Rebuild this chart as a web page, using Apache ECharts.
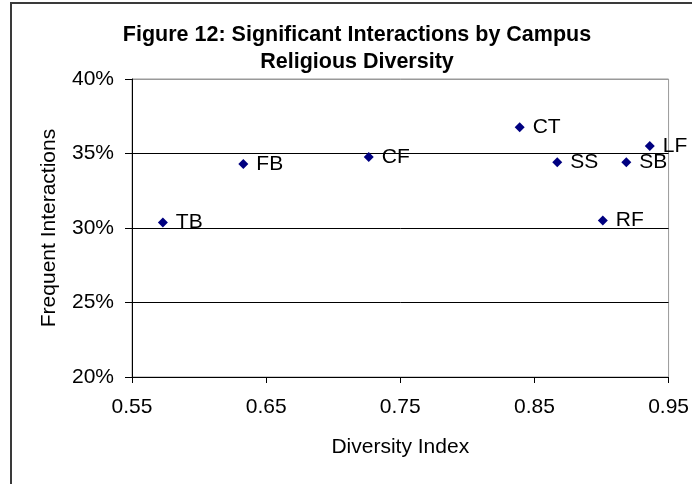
<!DOCTYPE html>
<html>
<head>
<meta charset="utf-8">
<script src="https://cdn.jsdelivr.net/npm/echarts@6/dist/echarts.min.js"></script>
<style>
  html, body { margin: 0; padding: 0; background: #fff; overflow: hidden; }
  #chart { width: 692px; height: 484px; }
  /* outer frame of the chart, cut off right and bottom like the original */
  .frame { position: absolute; left: 10px; top: 2px; width: 720px; height: 520px;
           border: 2px solid #3a3a3a; pointer-events: none; z-index: 10; }
</style>
</head>
<body>
<div id="chart"></div>
<div class="frame"></div>
<script>
  // campus codes and their values
  var campusCodes = ['TB', 'FB', 'CF', 'CT', 'SS', 'RF', 'SB', 'LF'];
  var diversityIndex = [0.573, 0.633, 0.7265, 0.839, 0.867, 0.901, 0.9185, 0.936];
  var frequentInteractions = [0.3037, 0.3429, 0.3477, 0.3677, 0.3442, 0.3051, 0.3442, 0.3551];
  var xTicks = { min: 0.55, max: 0.95, step: 0.1 };
  var yTicks = { min: 0.20, max: 0.40, step: 0.05 };

  var points = campusCodes.map(function (code, i) {
    return [diversityIndex[i], frequentInteractions[i], code];
  });

  var font = "'Liberation Sans', Arial, sans-serif";
  var myChart = echarts.init(document.getElementById('chart'));

  myChart.setOption({
    backgroundColor: '#fff',
    animation: false,
    title: {
      text: 'Figure 12: Significant Interactions by Campus\nReligious Diversity',
      left: 357,
      top: 22,
      padding: 0,
      textAlign: 'center',
      textStyle: {
        fontFamily: font,
        fontSize: 21.5,
        fontWeight: 'bold',
        color: '#000',
        lineHeight: 27
      }
    },
    grid: {
      left: 132,
      right: 23,
      top: 79,
      bottom: 107,
      show: true,
      borderColor: '#999',
      borderWidth: 1,
      backgroundColor: 'transparent'
    },
    xAxis: {
      type: 'value',
      min: xTicks.min,
      max: xTicks.max,
      interval: xTicks.step,
      name: 'Diversity Index',
      nameLocation: 'middle',
      nameGap: 60,
      nameTextStyle: { fontFamily: font, fontSize: 21, color: '#000' },
      axisLine: { show: true, onZero: false, lineStyle: { color: '#000', width: 1 } },
      axisTick: { show: true, inside: false, length: 6, lineStyle: { color: '#000' } },
      axisLabel: {
        margin: 20,
        fontFamily: font,
        fontSize: 21,
        color: '#000',
        formatter: function (v) { return v.toFixed(2); }
      },
      splitLine: { show: false }
    },
    yAxis: {
      type: 'value',
      min: yTicks.min,
      max: yTicks.max,
      interval: yTicks.step,
      name: 'Frequent Interactions',
      nameLocation: 'middle',
      nameGap: 72,
      nameTextStyle: { fontFamily: font, fontSize: 21, color: '#000' },
      axisLine: { show: true, onZero: false, lineStyle: { color: '#000', width: 1 } },
      axisTick: { show: true, inside: false, length: 7, lineStyle: { color: '#000' } },
      axisLabel: {
        margin: 18,
        fontFamily: font,
        fontSize: 21,
        color: '#000',
        formatter: function (v) { return Math.round(v * 100) + '%'; }
      },
      // black grid lines, top one grey like the plot border
      splitLine: { show: true, lineStyle: { color: ['#000', '#000', '#000', '#000', '#999'], width: 1 } }
    },
    series: [{
      type: 'scatter',
      symbol: 'diamond',
      symbolSize: 10,
      itemStyle: { color: '#000080', opacity: 1 },
      label: {
        show: true,
        position: 'right',
        distance: 8,
        fontFamily: font,
        fontSize: 21,
        color: '#000',
        formatter: function (p) { return p.data[2]; }
      },
      labelLayout: { hideOverlap: false },
      data: points
    }]
  });
</script>
</body>
</html>
